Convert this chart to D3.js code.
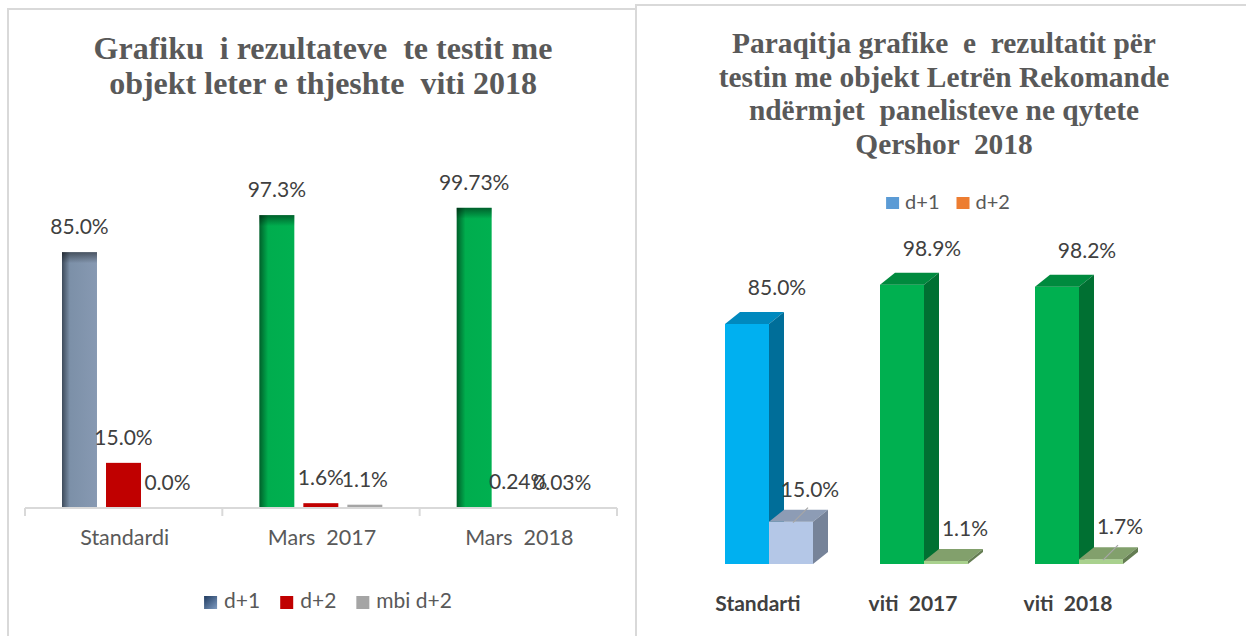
<!DOCTYPE html>
<html><head><meta charset="utf-8">
<script src="https://cdn.jsdelivr.net/npm/d3@7"></script>
<style>body{margin:0;background:#fff;overflow:hidden} text{white-space:pre}</style>
</head><body><svg id="c" width="1246" height="636"></svg>
<script>
// ---------- LEFT CHART DATA ----------
const leftTitle = ["Grafiku  i rezultateve  te testit me", "objekt leter e thjeshte  viti 2018"];
const leftCategories = ["Standardi", "Mars  2017", "Mars  2018"];
const leftSeries = ["d+1", "d+2", "mbi d+2"];
const leftD1 = [0.85, 0.973, 0.9973];
const leftD2 = [0.15, 0.016, 0.0024];
const leftMbiD2 = [0.0, 0.011, 0.0003];
const leftD1Labels = ["85.0%", "97.3%", "99.73%"];
const leftD2Labels = ["15.0%", "1.6%", "0.24%"];
const leftMbiLabels = ["0.0%", "1.1%", "0.03%"];

// ---------- RIGHT CHART DATA ----------
const rightTitle = ["Paraqitja grafike  e  rezultatit për", "testin me objekt Letrën Rekomande", "ndërmjet  panelisteve ne qytete", "Qershor  2018"];
const rightCategories = ["Standarti", "viti  2017", "viti  2018"];
const rightSeries = ["d+1", "d+2"];
const rightD1 = [0.85, 0.989, 0.982];
const rightD2 = [0.15, 0.011, 0.017];
const rightD1Labels = ["85.0%", "98.9%", "98.2%"];
const rightD2Labels = ["15.0%", "1.1%", "1.7%"];
const rightD2Leader = [true, false, true];

// ---------- STYLE ----------
const leftD1Style = ["slate", "green", "green"];
const rightD1Style = ["blue", "green", "green"];
const rightD2Style = ["lightblue", "lightgreen", "lightgreen"];
const faces = {
  blue: {front: "#00B0F0", top: "#0089BE", side: "#006E99"},
  green: {front: "#00B050", top: "#008A3E", side: "#007032"},
  lightblue: {front: "#B4C7E7", top: "#8D9CB5", side: "#768399"},
  lightgreen: {front: "#A9D18E", top: "#82A06C", side: "#647D52"}
};
const titleColor = "#595959", textColor = "#404040", catColor = "#595959", gridColor = "#D9D9D9";

const svg = d3.select("#c");
const defs = svg.append("defs");
function hGrad(id, stops) {
  const g = defs.append("linearGradient").attr("id", id).attr("x1", 0).attr("x2", 1).attr("y1", 0).attr("y2", 0);
  stops.forEach(s => g.append("stop").attr("offset", s[0]).attr("stop-color", s[1]));
}
hGrad("slate", [[0, "#3E4B5B"], [0.22, "#7C90A8"], [1, "#8799B2"]]);
hGrad("green", [[0, "#00602A"], [0.25, "#00AD4E"], [1, "#00B050"]]);
const tg = defs.append("linearGradient").attr("id", "topShade").attr("x1", 0).attr("x2", 0).attr("y1", 0).attr("y2", 1);
tg.append("stop").attr("offset", 0).attr("stop-color", "#000").attr("stop-opacity", 0.45);
tg.append("stop").attr("offset", 1).attr("stop-color", "#000").attr("stop-opacity", 0);
const lg = defs.append("linearGradient").attr("id", "legBlue").attr("x1", 0).attr("x2", 1).attr("y1", 0).attr("y2", 1);
lg.append("stop").attr("offset", 0).attr("stop-color", "#1F3A5F");
lg.append("stop").attr("offset", 1).attr("stop-color", "#7F9CC2");

// panel frames
svg.append("path").attr("d", "M8,636 V9 H636").attr("fill", "none").attr("stroke", gridColor).attr("stroke-width", 2);
svg.append("path").attr("d", "M636,636 V5 H1246").attr("fill", "none").attr("stroke", gridColor).attr("stroke-width", 2);

// ================= LEFT =================
const L = svg.append("g");
L.selectAll("text.title").data(leftTitle).join("text")
  .attr("x", 323).attr("y", (d, i) => 59 + i * 35).attr("text-anchor", "middle")
  .attr("font-family", "Liberation Serif").attr("font-weight", "bold").attr("font-size", 32)
  .attr("fill", titleColor).text(d => d);

const lx = d3.scaleBand().domain(leftCategories).range([25, 617]);
const lxi = d3.scaleBand().domain(leftSeries).range([37, 160]).paddingInner(0.205);
const ly = d3.scaleLinear().domain([0, 1]).range([508, 207]);

const leftRows = [];
leftCategories.forEach((c, i) => {
  leftRows.push({c, s: "d+1", v: leftD1[i], label: leftD1Labels[i], fill: "url(#" + leftD1Style[i] + ")", shade: true});
  leftRows.push({c, s: "d+2", v: leftD2[i], label: leftD2Labels[i], fill: "#C00000", shade: false});
  leftRows.push({c, s: "mbi d+2", v: leftMbiD2[i], label: leftMbiLabels[i], fill: "#A5A5A5", shade: false});
});
L.selectAll("rect.bar").data(leftRows).join("rect")
  .attr("x", d => lx(d.c) + lxi(d.s)).attr("width", lxi.bandwidth())
  .attr("y", d => ly(d.v)).attr("height", d => ly(0) - ly(d.v)).attr("fill", d => d.fill);
L.selectAll("rect.shade").data(leftRows.filter(d => d.shade)).join("rect")
  .attr("x", d => lx(d.c) + lxi(d.s)).attr("width", lxi.bandwidth())
  .attr("y", d => ly(d.v)).attr("height", 11).attr("fill", "url(#topShade)");

// axis
const axG = L.append("g").attr("transform", "translate(0,508)");
axG.call(d3.axisBottom(lx).tickSize(0).tickFormat(""));
axG.select(".domain").attr("stroke", gridColor).attr("stroke-width", 2).attr("d", "M25,0H617");
const tickPos = leftCategories.map(c => lx(c)).concat([lx.range()[1]]);
axG.selectAll("line.t").data(tickPos).join("line").attr("x1", d => d).attr("x2", d => d)
  .attr("y1", 0).attr("y2", 8).attr("stroke", gridColor).attr("stroke-width", 2);
L.selectAll("text.cat").data(leftCategories).join("text")
  .attr("x", d => lx(d) + lx.bandwidth() / 2 + 1).attr("y", 545).attr("text-anchor", "middle")
  .attr("font-family", "Lato").attr("font-size", 21.5).attr("fill", catColor).text(d => d);

L.selectAll("text.lab").data(leftRows).join("text")
  .attr("x", d => lx(d.c) + lxi(d.s) + lxi.bandwidth() / 2).attr("y", d => ly(d.v) - 18)
  .attr("text-anchor", "middle").attr("font-family", "Lato").attr("font-size", 21)
  .attr("fill", textColor).text(d => d.label);

// legend
const leftLegFill = ["url(#legBlue)", "#C00000", "#A5A5A5"];
const legL = L.append("g");
let cx = 0;
leftSeries.forEach((s, i) => {
  const g = legL.append("g").attr("transform", `translate(${cx},0)`);
  g.append("rect").attr("x", 0).attr("y", 596).attr("width", 13).attr("height", 13).attr("fill", leftLegFill[i]);
  const t = g.append("text").attr("x", 20).attr("y", 608).attr("font-family", "Lato").attr("font-size", 21)
    .attr("fill", catColor).text(s);
  cx += 20 + t.node().getComputedTextLength() + 20;
});
legL.attr("transform", `translate(${328 - (cx - 20) / 2},0)`);

// ================= RIGHT =================
const R = svg.append("g");
R.selectAll("text.title").data(rightTitle).join("text")
  .attr("x", 944).attr("y", (d, i) => 53 + i * 33.7).attr("text-anchor", "middle")
  .attr("font-family", "Liberation Serif").attr("font-weight", "bold").attr("font-size", 29.4)
  .attr("fill", titleColor).text(d => d);

// legend
const rightLegFill = ["#5B9BD5", "#ED7D31"];
const legR = R.append("g");
let rx = 0;
rightSeries.forEach((s, i) => {
  const g = legR.append("g").attr("transform", `translate(${rx},0)`);
  g.append("rect").attr("x", 0).attr("y", 197).attr("width", 13).attr("height", 12).attr("fill", rightLegFill[i]);
  const t = g.append("text").attr("x", 19).attr("y", 209).attr("font-family", "Lato").attr("font-size", 20)
    .attr("fill", catColor).text(s);
  rx += 19 + t.node().getComputedTextLength() + 17;
});
legR.attr("transform", `translate(${948 - (rx - 17) / 2},0)`);

const rxs = d3.scaleBand().domain(rightCategories).range([705, 1170]);
const rxi = d3.scaleBand().domain(rightSeries).range([20, 108]);
const ry = d3.scaleLinear().domain([0, 1]).range([564, 281.6]);
const DX = 15, DY = -12;

function bar3d(g, x, yTop, w, base, f) {
  g.append("rect").attr("x", x).attr("y", yTop).attr("width", w).attr("height", base - yTop).attr("fill", f.front);
  g.append("path").attr("d", `M${x},${yTop}L${x + DX},${yTop + DY}H${x + w + DX}L${x + w},${yTop}Z`).attr("fill", f.top);
  g.append("path").attr("d", `M${x + w},${yTop}L${x + w + DX},${yTop + DY}V${base + DY}L${x + w},${base}Z`).attr("fill", f.side);
}
const RB = R.append("g");
rightCategories.forEach((c, i) => {
  const w = rxi.bandwidth();
  bar3d(RB, rxs(c) + rxi("d+1"), ry(rightD1[i]), w, ry(0), faces[rightD1Style[i]]);
  bar3d(RB, rxs(c) + rxi("d+2"), ry(rightD2[i]), w, ry(0), faces[rightD2Style[i]]);
});
// labels
R.selectAll("text.l1").data(rightCategories).join("text")
  .attr("x", (c) => rxs(c) + rxi("d+1") + rxi.bandwidth() / 2 + 30)
  .attr("y", (c, i) => ry(rightD1[i]) - 29).attr("text-anchor", "middle")
  .attr("font-family", "Lato").attr("font-size", 21).attr("fill", textColor).text((c, i) => rightD1Labels[i]);
R.selectAll("text.l2").data(rightCategories).join("text")
  .attr("x", (c) => rxs(c) + rxi("d+2") + rxi.bandwidth() / 2 + 19)
  .attr("y", (c, i) => ry(rightD2[i]) - 25).attr("text-anchor", "middle")
  .attr("font-family", "Lato").attr("font-size", 21).attr("fill", textColor).text((c, i) => rightD2Labels[i]);
R.selectAll("line.lead").data(rightCategories.filter((c, i) => rightD2Leader[i])).join("line")
  .attr("x1", c => rxs(c) + rxi("d+2") + rxi.bandwidth() / 2 + 17)
  .attr("y1", c => ry(rightD2[rightCategories.indexOf(c)]) - 14)
  .attr("x2", c => rxs(c) + rxi("d+2") + rxi.bandwidth() / 2 + 2)
  .attr("y2", c => ry(rightD2[rightCategories.indexOf(c)]) + 1)
  .attr("stroke", "#A6A6A6").attr("stroke-width", 1.2);
R.selectAll("text.cat").data(rightCategories).join("text")
  .attr("x", c => rxs(c) + 53).attr("y", 611).attr("text-anchor", "middle")
  .attr("font-family", "Lato").attr("font-weight", "bold").attr("font-size", 21)
  .attr("fill", textColor).text(c => c);
</script></body></html>
